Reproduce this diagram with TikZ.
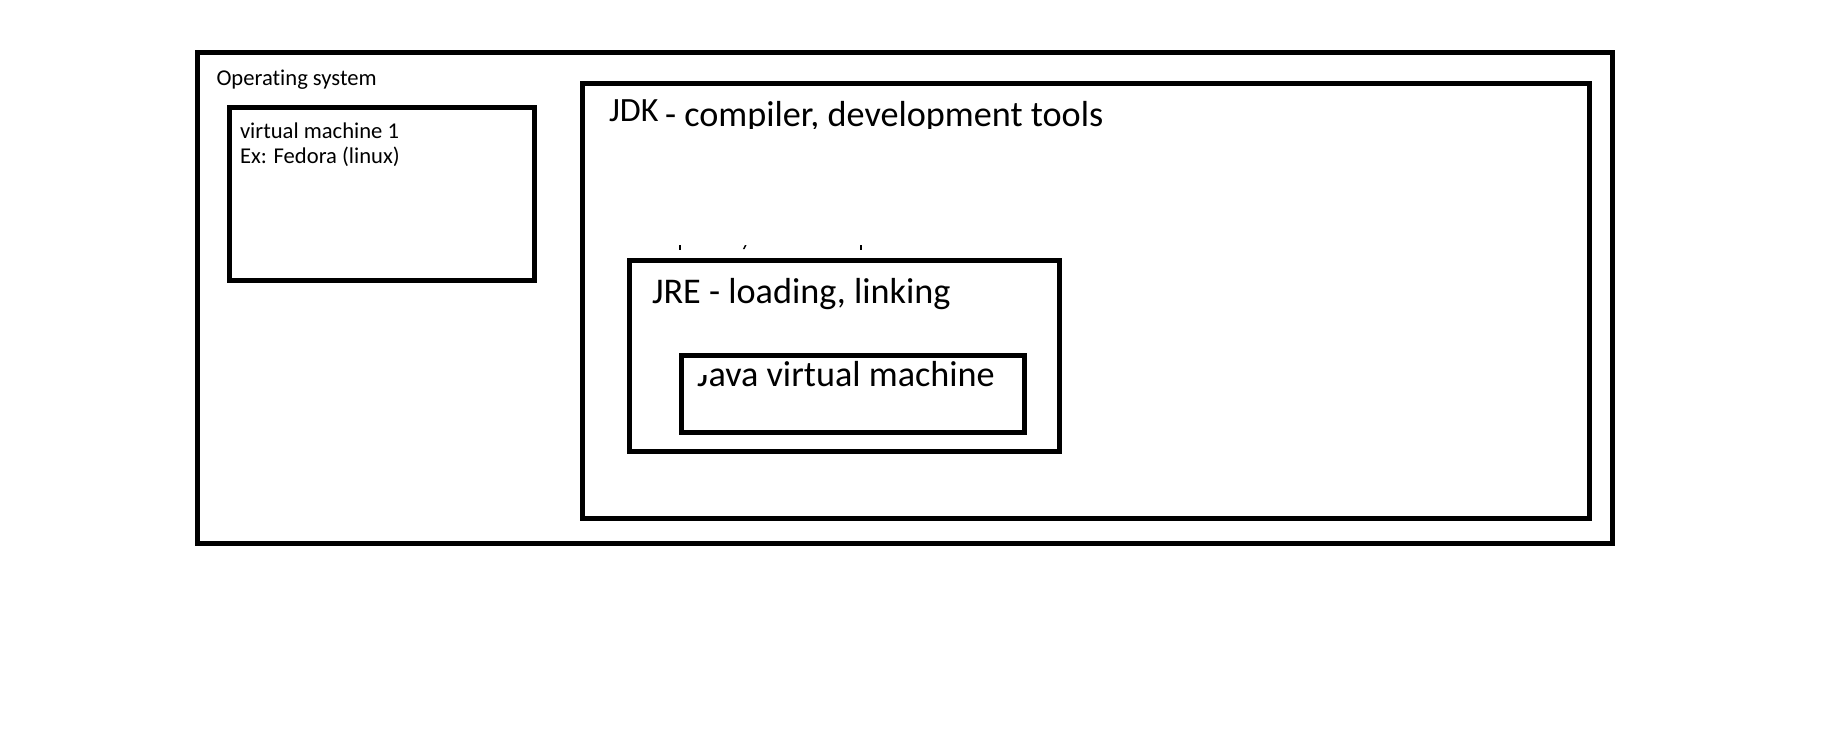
\documentclass[tikz,border=0pt]{standalone}
\usepackage{fontspec}
\setmainfont{Carlito}[Ligatures={NoCommon}]
\begin{document}
\begin{tikzpicture}[x=1pt,y=-1pt,
  box/.style={draw=black,line width=5pt,inner sep=0pt,outer sep=0pt,rectangle},
  small/.style={inner sep=0pt,outer sep=0pt,anchor=base west,font=\fontsize{22.6}{25.7}\selectfont},
  big/.style={inner sep=0pt,outer sep=0pt,anchor=base west,font=\fontsize{36.2}{42}\selectfont}]
\useasboundingbox (0,0) rectangle (1831,733);
% boxes
\node[box,minimum width=1415pt,minimum height=491pt] (os) at (905,298) {};
\node[box,minimum width=304.5pt,minimum height=172pt] (vm) at (382,194) {};
\node[box,minimum width=1007pt,minimum height=435pt] (jdk) at (1086,301) {};
\node[box,minimum width=430pt,minimum height=191.8pt] (jre) at (844.2,355.9) {};
\node[box,minimum width=342.4pt,minimum height=76.7pt] (jvm) at (853,394.2) {};
% texts
\node[small] (ostext) at (216.5,86) {Operating system};
\node[small] (vmtext1) at (240,138.3) {virtual machine 1};
\node[small] (vmtext2) at (240,164) {Ex: Fedora (linux)};
\node[inner sep=0pt,outer sep=0pt,anchor=base west,font=\fontsize{34}{40}\selectfont] (jdktext) at (609,121.7) {JDK};
\begin{scope}
  \clip (0,0) rectangle (1831,128.3);
  \node[big] (jdkdesc) at (665,127) {- compiler, development tools};
\end{scope}
\node[big] (jretext) at (652,303.3) {JRE - loading, linking};
\begin{scope}
  \clip (0,0) -- (1831,0) -- (1831,733) -- (0,733) -- (0,375) -- (706.5,375) -- (706.5,345) -- (0,345) -- cycle;
  \node[big] (jvmtext) at (697,386.7) {Java virtual machine};
\end{scope}
% remnants of clipped text above the JRE box
\fill[black] (678.8,245) rectangle (681.4,250);
\fill[black] (859.5,245) rectangle (862.2,250);
\fill[black] (742.9,249) -- (744.5,249) -- (746.5,245) -- (745,245) -- cycle;
\end{tikzpicture}
\end{document}
